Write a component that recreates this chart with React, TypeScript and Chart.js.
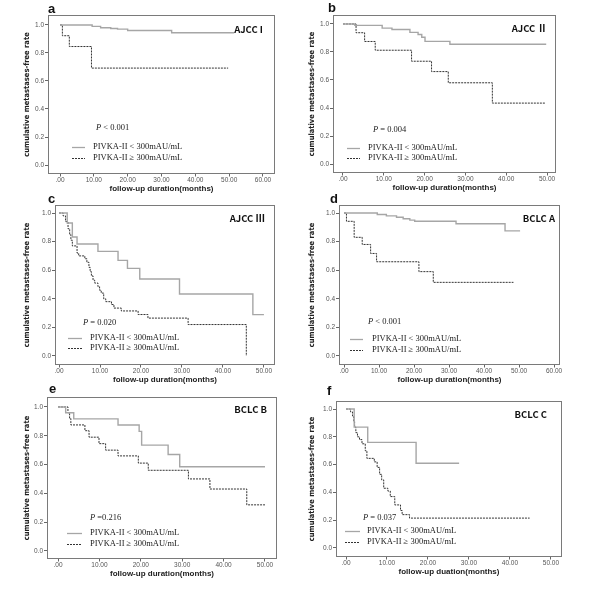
import React, { useEffect, useRef } from "react";
import { Chart, registerables } from "chart.js";

Chart.register(...registerables);

// ---------- data (months, cumulative metastases-free rate) ----------
const aLowT = [0, 9.5, 12, 15, 17, 20, 33, 51.5];
const aLowS = [1, 0.99, 0.98, 0.975, 0.97, 0.96, 0.944, 0.944];
const aHighT = [0, 0.7, 2.75, 9.3, 49.7];
const aHighS = [1, 0.923, 0.846, 0.692, 0.692];

const bLowT = [0, 2.9, 9.6, 12, 16.4, 18.4, 19.3, 20.1, 26.2, 49.8];
const bLowS = [1, 0.99, 0.97, 0.96, 0.94, 0.925, 0.905, 0.876, 0.855, 0.855];
const bHighT = [0, 3.2, 5.3, 7.9, 16.8, 21.7, 25.8, 36.6, 49.6];
const bHighS = [1, 0.9375, 0.875, 0.8125, 0.734, 0.66, 0.58, 0.435, 0.435];

const cLowT = [0, 2.0, 3.25, 4.4, 9.5, 14.4, 16.7, 19.7, 29.4, 47.3, 50];
const cLowS = [1, 0.93, 0.832, 0.783, 0.732, 0.669, 0.613, 0.538, 0.434, 0.289, 0.289];
const cHighT = [0, 1.0, 1.6, 2.2, 2.6, 2.9, 3.25, 4.4, 4.8, 6.3, 6.8, 7.3, 7.6, 7.9, 8.3, 8.7, 9.5, 9.9, 10.3, 10.9, 11.4, 12.8, 13.4, 15.2, 19.3, 21.7, 31.5, 45.7];
const cHighS = [1, 0.98, 0.94, 0.89, 0.85, 0.81, 0.77, 0.72, 0.7, 0.68, 0.655, 0.62, 0.59, 0.56, 0.53, 0.51, 0.485, 0.46, 0.44, 0.4, 0.38, 0.36, 0.335, 0.315, 0.29, 0.265, 0.22, 0.0];

const dLowT = [0, 9.5, 12.1, 15, 16.9, 18.8, 20.2, 32, 46, 50.3];
const dLowS = [1, 0.99, 0.98, 0.97, 0.96, 0.95, 0.942, 0.925, 0.875, 0.875];
const dHighT = [0, 0.7, 2.9, 5.2, 7.6, 9.3, 21.4, 25.5, 48.4];
const dHighS = [1, 0.942, 0.83, 0.78, 0.717, 0.659, 0.59, 0.515, 0.515];

const eLowT = [0, 1.85, 3.8, 14.5, 19.6, 20.2, 26.6, 29.4, 50];
const eLowS = [1, 0.96, 0.917, 0.875, 0.83, 0.735, 0.67, 0.585, 0.585];
const eHighT = [0, 2.4, 2.8, 3.1, 6.5, 7.5, 9.9, 11.5, 14.5, 19.4, 21.8, 31.5, 36.7, 45.6, 50];
const eHighS = [1, 0.96, 0.92, 0.875, 0.835, 0.79, 0.745, 0.7, 0.66, 0.61, 0.56, 0.5, 0.43, 0.32, 0.32];

const fLowT = [0, 2.0, 5.3, 17.1, 27.6];
const fLowS = [1, 0.87, 0.76, 0.61, 0.61];
const fHighT = [0, 1.1, 1.6, 1.9, 2.1, 2.4, 2.8, 3.3, 3.9, 4.7, 5.1, 6.9, 7.6, 8.2, 8.7, 9.2, 10.2, 10.8, 11.9, 13.3, 13.7, 15.5, 44.8];
const fHighS = [1, 0.98, 0.95, 0.91, 0.87, 0.83, 0.8, 0.78, 0.75, 0.7, 0.645, 0.62, 0.58, 0.53, 0.49, 0.43, 0.41, 0.37, 0.31, 0.27, 0.24, 0.215, 0.215];

const X_TICKS_60 = [0, 10, 20, 30, 40, 50, 60];
const X_TICKS_50 = [0, 10, 20, 30, 40, 50];
const Y_TICKS = [0, 0.2, 0.4, 0.6, 0.8, 1.0];

const LEGEND_LOW = "PIVKA-II < 300mAU/mL";
const LEGEND_HIGH = "PIVKA-II \u2265 300mAU/mL";
const Y_TITLE = "cumulative metastases-free rate";
const X_TITLE = "follow-up duration(months)";
const X_TITLE_F = "follow-up duation(months)";

// ---------- layout (page pixels) ----------
const PANELS = [
  {
    letter: "a", stage: "AJCC I", p: " < 0.001", xTitle: X_TITLE,
    low: [aLowT, aLowS], high: [aHighT, aHighS], xTicks: X_TICKS_60,
    col: 0, L: 48, T: 15, R: 275, B: 174, xMin: -3.55, xMax: 63.55, yMin: -0.064, yMax: 1.071,
    pX: 96, pY: 128, sX1: 72, sX2: 85, tX: 93, lY1: 147, lY2: 158, stR: 263, stY: 29, letX: 48, letY: 9,
  },
  {
    letter: "b", stage: "AJCC \u2161", p: " = 0.004", xTitle: X_TITLE,
    low: [bLowT, bLowS], high: [bHighT, bHighS], xTicks: X_TICKS_50,
    col: 1, L: 333, T: 15, R: 556, B: 173, xMin: -2.45, xMax: 52.2, yMin: -0.064, yMax: 1.064,
    pX: 373, pY: 130, sX1: 347, sX2: 360, tX: 368, lY1: 148, lY2: 158, stR: 547, stY: 28, letX: 328, letY: 8,
  },
  {
    letter: "c", stage: "AJCC \u2162", p: " = 0.020", xTitle: X_TITLE,
    low: [cLowT, cLowS], high: [cHighT, cHighS], xTicks: X_TICKS_50,
    col: 0, L: 55, T: 205, R: 275, B: 365, xMin: -0.98, xMax: 52.7, yMin: -0.063, yMax: 1.056,
    pX: 83, pY: 323, sX1: 68, sX2: 82, tX: 90, lY1: 338, lY2: 348, stR: 265, stY: 218, letX: 48, letY: 199,
  },
  {
    letter: "d", stage: "BCLC A", p: " < 0.001", xTitle: X_TITLE,
    low: [dLowT, dLowS], high: [dHighT, dHighS], xTicks: X_TICKS_60,
    col: 1, L: 339, T: 205, R: 560, B: 365, xMin: -1.43, xMax: 61.7, yMin: -0.063, yMax: 1.056,
    pX: 368, pY: 322, sX1: 350, sX2: 363, tX: 372, lY1: 339, lY2: 350, stR: 555, stY: 218, letX: 330, letY: 199,
  },
  {
    letter: "e", stage: "BCLC B", p: " =0.216", xTitle: X_TITLE,
    low: [eLowT, eLowS], high: [eHighT, eHighS], xTicks: X_TICKS_50,
    col: 0, L: 47, T: 397, R: 277, B: 559, xMin: -2.66, xMax: 52.9, yMin: -0.056, yMax: 1.069,
    pX: 90, pY: 518, sX1: 67, sX2: 82, tX: 90, lY1: 533, lY2: 544, stR: 267, stY: 409, letX: 49, letY: 389,
  },
  {
    letter: "f", stage: "BCLC C", p: " = 0.037", xTitle: X_TITLE_F,
    low: [fLowT, fLowS], high: [fHighT, fHighS], xTicks: X_TICKS_50,
    col: 1, L: 336, T: 401, R: 562, B: 557, xMin: -2.44, xMax: 52.7, yMin: -0.065, yMax: 1.058,
    pX: 363, pY: 518, sX1: 345, sX2: 360, tX: 367, lY1: 531, lY2: 542, stR: 547, stY: 414, letX: 327, letY: 391,
  },
];

const LOW_COLOR = "#a6a6a6";
const HIGH_COLOR = "#333333";
const FRAME_COLOR = "#7a7a7a";
const TICK_FONT = "'Liberation Sans', Arial, sans-serif";
const SERIF = "'Liberation Serif', 'Times New Roman', serif";

function Panel({ cfg }: { cfg: any }) {
  const ref = useRef<HTMLCanvasElement>(null);
  const cl = cfg.col === 0 ? 8 : 293;
  const ct = cfg.T - 12;
  const yW = cfg.L - cl;
  const w = cfg.R - cl + 15;
  const h = cfg.B - ct + 26;

  useEffect(() => {
    const toPts = (t: number[], s: number[]) => t.map((x, i) => ({ x, y: s[i] }));
    const annot = {
      id: "annot",
      afterDraw(chart: any) {
        const ctx = chart.ctx;
        const a = chart.chartArea;
        ctx.save();
        ctx.strokeStyle = FRAME_COLOR;
        ctx.lineWidth = 1;
        ctx.strokeRect(
          Math.round(a.left) + 0.5,
          Math.round(a.top) + 0.5,
          Math.round(a.right - a.left) - 1,
          Math.round(a.bottom - a.top) - 1
        );
        // stage label
        ctx.fillStyle = "#111";
        ctx.textBaseline = "middle";
        ctx.textAlign = "right";
        ctx.font = "600 9.5px 'Noto Sans CJK SC', 'Noto Sans', sans-serif";
        ctx.fillText(cfg.stage, cfg.stR - cl, cfg.stY - ct);
        // P value
        ctx.textAlign = "left";
        ctx.font = "italic 8.5px " + SERIF;
        ctx.fillStyle = "#222";
        ctx.fillText("P", cfg.pX - cl, cfg.pY - ct);
        const pw = ctx.measureText("P").width;
        ctx.font = "8.5px " + SERIF;
        ctx.fillText(cfg.p, cfg.pX - cl + pw, cfg.pY - ct);
        // legend samples
        ctx.lineWidth = 1.3;
        ctx.strokeStyle = LOW_COLOR;
        ctx.beginPath();
        ctx.moveTo(cfg.sX1 - cl, cfg.lY1 - ct + 0.5);
        ctx.lineTo(cfg.sX2 - cl, cfg.lY1 - ct + 0.5);
        ctx.stroke();
        ctx.strokeStyle = HIGH_COLOR;
        ctx.lineWidth = 1;
        ctx.setLineDash([2, 1]);
        ctx.beginPath();
        ctx.moveTo(cfg.sX1 - cl, cfg.lY2 - ct + 0.5);
        ctx.lineTo(cfg.sX2 - cl, cfg.lY2 - ct + 0.5);
        ctx.stroke();
        ctx.setLineDash([]);
        ctx.fillStyle = "#222";
        ctx.font = "8.5px " + SERIF;
        ctx.fillText(LEGEND_LOW, cfg.tX - cl, cfg.lY1 - ct);
        ctx.fillText(LEGEND_HIGH, cfg.tX - cl, cfg.lY2 - ct);
        ctx.restore();
      },
    };

    const chart = new Chart(ref.current as HTMLCanvasElement, {
      type: "line",
      data: {
        datasets: [
          {
            label: LEGEND_LOW,
            data: toPts(cfg.low[0], cfg.low[1]),
            borderColor: LOW_COLOR,
            borderWidth: 1.4,
            stepped: "before",
            pointRadius: 0,
            fill: false,
          },
          {
            label: LEGEND_HIGH,
            data: toPts(cfg.high[0], cfg.high[1]),
            borderColor: HIGH_COLOR,
            borderWidth: 1,
            borderDash: [2, 1],
            stepped: "before",
            pointRadius: 0,
            fill: false,
          },
        ],
      },
      options: {
        responsive: false,
        animation: false,
        events: [],
        layout: { padding: { left: 0, top: 12, right: 15, bottom: 0 } },
        plugins: { legend: { display: false }, tooltip: { enabled: false }, title: { display: false } },
        scales: {
          x: {
            type: "linear",
            min: cfg.xMin,
            max: cfg.xMax,
            afterBuildTicks: (s: any) => {
              s.ticks = cfg.xTicks.map((v: number) => ({ value: v }));
            },
            afterFit: (s: any) => {
              s.height = 26;
            },
            ticks: {
              autoSkip: false,
              maxRotation: 0,
              padding: 0,
              color: "#555",
              font: { family: TICK_FONT, size: 6.5 },
              callback: (v: any) => (Number(v) === 0 ? ".00" : Number(v).toFixed(2)),
            },
            grid: { display: true, drawOnChartArea: false, drawTicks: true, tickLength: 2.5, color: "#666" },
            border: { display: false },
            title: {
              display: true,
              text: cfg.xTitle,
              color: "#222",
              font: { family: TICK_FONT, size: 8, weight: "bold" },
              padding: { top: 0, bottom: 6 },
            },
          },
          y: {
            type: "linear",
            min: cfg.yMin,
            max: cfg.yMax,
            afterBuildTicks: (s: any) => {
              s.ticks = Y_TICKS.map((v) => ({ value: v }));
            },
            afterFit: (s: any) => {
              s.width = yW;
            },
            ticks: {
              autoSkip: false,
              padding: 1,
              color: "#555",
              font: { family: TICK_FONT, size: 6.5 },
              callback: (v: any) => Number(v).toFixed(1),
            },
            grid: { display: true, drawOnChartArea: false, drawTicks: true, tickLength: 3, color: "#666" },
            border: { display: false },
            title: {
              display: true,
              text: Y_TITLE,
              color: "#222",
              font: { family: "'Liberation Sans Narrow', 'DejaVu Sans Condensed', sans-serif", size: 7.5, weight: "bold" },
              padding: { top: 14.5, bottom: 0 },
            },
          },
        },
      },
      plugins: [annot],
    } as any);
    return () => chart.destroy();
  }, []);

  return (
    <>
      <canvas
        ref={ref}
        width={w}
        height={h}
        style={{ position: "absolute", left: cl, top: ct, width: w, height: h }}
      />
      <div
        style={{
          position: "absolute",
          left: cfg.letX,
          top: cfg.letY - 8,
          font: "bold 13px 'Liberation Sans', Arial, sans-serif",
          lineHeight: "16px",
          color: "#111",
        }}
      >
        {cfg.letter}
      </div>
    </>
  );
}

export default function App() {
  return (
    <div style={{ position: "fixed", left: 0, top: 0, width: 600, height: 600, background: "#fff", overflow: "hidden" }}>
      {PANELS.map((p) => (
        <Panel key={p.letter} cfg={p} />
      ))}
    </div>
  );
}
